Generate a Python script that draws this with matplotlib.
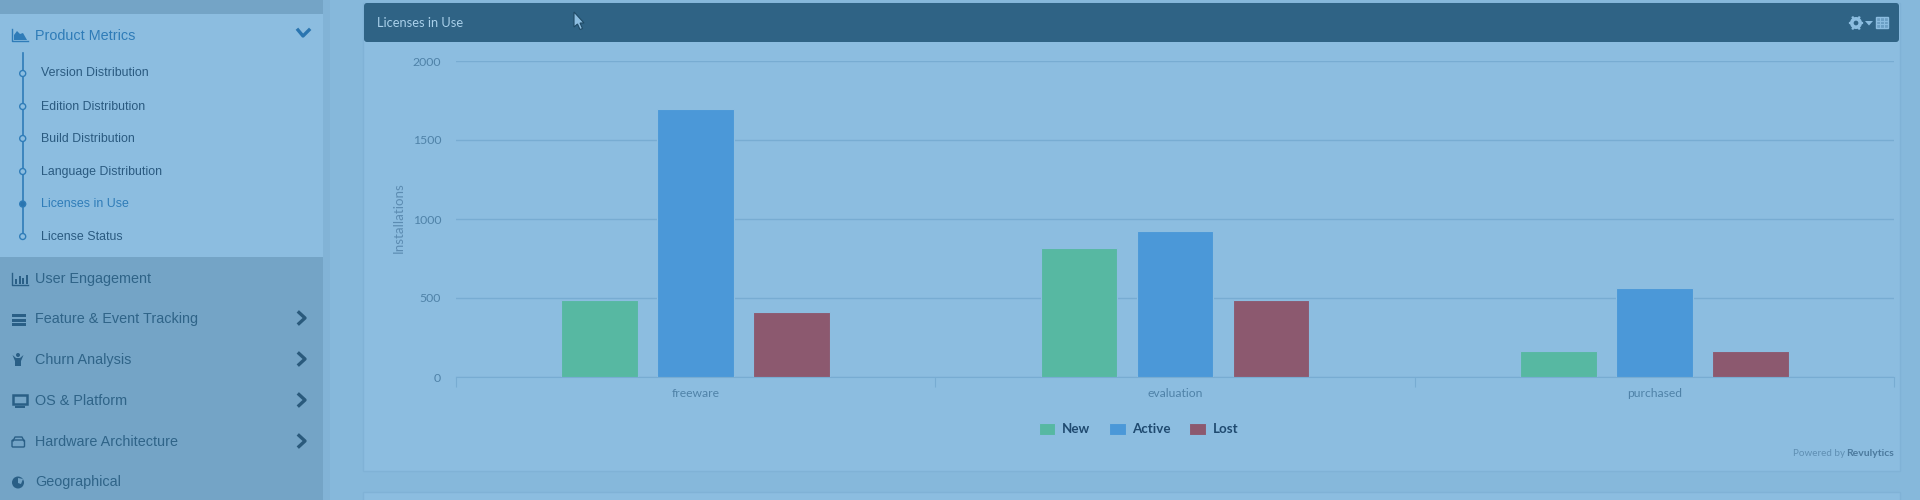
import numpy as np
import matplotlib
matplotlib.use("Agg")
import matplotlib.pyplot as plt
from matplotlib.patches import Rectangle, FancyBboxPatch, Polygon, Circle

categories = ["freeware", "evaluation", "purchased"]
new_vals = [488, 815, 163]
active_vals = [1698, 923, 565]
lost_vals = [410, 488, 163]
series_names = ["New", "Active", "Lost"]
y_ticks = [0, 500, 1000, 1500, 2000]
submenu = ["Version Distribution", "Edition Distribution", "Build Distribution",
           "Language Distribution", "Licenses in Use", "License Status"]
menu = ["User Engagement", "Feature & Event Tracking", "Churn Analysis",
        "OS & Platform", "Hardware Architecture", "Geographical"]

W, H = 1920, 500
BG = "#86b8db"; SIDE = "#74a4c6"; PANEL = "#8cbde0"; HEAD = "#2f6385"
GRID = "#78acd2"; TICK = "#4f82a8"; NAV = "#2f6488"; SUB = "#2a5a80"; ACC = "#2f7cb8"
COLORS = ["#57b8a2", "#4b98d8", "#8c596f"]

fig = plt.figure(figsize=(W / 100, H / 100), dpi=100, facecolor=BG)

# page chrome in pixel coordinates
bg = fig.add_axes([0, 0, 1, 1], zorder=0)
bg.set_xlim(0, W); bg.set_ylim(H, 0); bg.axis("off")
bg.add_patch(Rectangle((0, 0), 323, H, fc=SIDE, ec="none"))
bg.add_patch(Rectangle((323, 0), 7, H, fc="#82b3d6", ec="none"))
bg.add_patch(Rectangle((0, 14), 323, 243, fc=PANEL, ec="none"))
bg.add_patch(Rectangle((363, 3), 1537, 468, fc=PANEL, ec="#80b2d6", lw=1))
bg.add_patch(Rectangle((363, 492), 1537, 10, fc=PANEL, ec="#80b2d6", lw=1))
bg.add_patch(FancyBboxPatch((366, 5), 1531, 35, boxstyle="round,pad=2,rounding_size=3", fc=HEAD, ec="none"))
bg.text(377, 23, "Licenses in Use", color="#a9d0ea", fontsize=9.3, family="Lato", va="center")

# cursor
bg.add_patch(Polygon([(574, 12), (574, 27), (577.5, 24), (580, 29.5), (582.5, 28.5), (580, 23), (584, 23)],
                     fc="#8cbde0", ec="#1f4a66", lw=0.8))

# gear + caret + table icons
bg.add_patch(Circle((1856, 23), 4.2, fc="none", ec="#8cbde0", lw=2.6))
for a in np.arange(0, 360, 60):
    bg.plot([1856 + 4.5 * np.cos(np.radians(a)), 1856 + 6.4 * np.cos(np.radians(a))],
            [23 + 4.5 * np.sin(np.radians(a)), 23 + 6.4 * np.sin(np.radians(a))], color="#8cbde0", lw=1.6)
bg.add_patch(Polygon([(1865, 21), (1873, 21), (1869, 25.5)], fc="#8cbde0", ec="none"))
bg.add_patch(Rectangle((1876, 17), 12, 11, fc="#6b9fc4", ec="#8cbde0", lw=1))
for gx in (1880, 1884):
    bg.plot([gx, gx], [17, 28], color="#8cbde0", lw=0.7)
for gy in (20.6, 24.2):
    bg.plot([1876, 1888], [gy, gy], color="#8cbde0", lw=0.7)

# sidebar
nav_font = "Liberation Sans"
bg.text(35, 36, "Product Metrics", color=ACC, fontsize=10.4, family=nav_font, va="center")
bg.plot([12, 12, 28], [29, 41, 41], color=ACC, lw=1)
bg.add_patch(Polygon([(14, 40), (14, 35), (17, 31), (20, 34), (23, 33), (27, 40)], fc=ACC, ec="none"))
bg.plot([298, 303, 309], [30, 36, 30], color="#2a75b0", lw=2.4)

sub_y = [73.5, 106.5, 138.5, 171.5, 204, 236.5]
bg.plot([22.7, 22.7], [53, 236], color=ACC, lw=1.2, zorder=2)
for i, (label, y) in enumerate(zip(submenu, sub_y)):
    active = label == "Licenses in Use"
    bg.add_patch(Circle((22.7, y), 3, fc="#2a75b0" if active else PANEL, ec=ACC, lw=1, zorder=3))
    bg.text(41, y, label, color=ACC if active else SUB, fontsize=8.9, family=nav_font, va="center")

menu_y = [279, 319, 360, 401, 442, 482]
for label, y in zip(menu, menu_y):
    bg.text(35, y, label, color=NAV, fontsize=10.4, family=nav_font, va="center")
for y in menu_y[1:5]:
    bg.plot([299, 305, 299], [y - 6.5, y - 1, y + 4.5], color="#2a5a7c", lw=2.4)

ic = "#2a5f86"
# bar-chart icon
bg.plot([12, 12, 28], [273, 285, 285], color=ic, lw=1)
for bx, bh in zip([15, 18.5, 22, 25.5], [5, 8, 6, 9]):
    bg.add_patch(Rectangle((bx, 284 - bh), 2, bh, fc=ic, ec="none"))
# tasks icon
for by in (314, 318.5, 323):
    bg.add_patch(Rectangle((12, by), 14, 3.2, fc=ic, ec="none"))
# person icon
bg.add_patch(Circle((18, 355), 2, fc=ic, ec="none"))
bg.add_patch(Polygon([(12.5, 355), (16, 358), (20, 358), (23.5, 355), (21, 361), (21, 366), (15, 366), (15, 361)], fc=ic, ec="none"))
# monitor icon
bg.add_patch(Rectangle((13, 395), 14, 9, fc="none", ec=ic, lw=1.8))
bg.add_patch(Rectangle((15, 406), 10, 1.6, fc=ic, ec="none"))
# hdd icon
bg.add_patch(FancyBboxPatch((13, 441), 10.5, 5, boxstyle="round,pad=1,rounding_size=1", fc="none", ec=ic, lw=1))
bg.plot([13, 15, 22, 24], [441, 437, 437, 441], color=ic, lw=1)
# globe icon
bg.add_patch(Circle((18, 482.5), 6, fc=ic, ec="none"))
bg.add_patch(Polygon([(18, 478), (23, 479), (21, 484), (18, 483)], fc=SIDE, ec="none"))

# chart
L, R, T, B = 456, 1894, 61, 377
ax = fig.add_axes([L / W, 1 - B / H, (R - L) / W, (B - T) / H], zorder=1)
ax.patch.set_alpha(0)
x = np.arange(len(categories))
w, step = 0.16, 0.2
for off, vals, name, col in zip((-step, 0, step), (new_vals, active_vals, lost_vals), series_names, COLORS):
    ax.bar(x + off, vals, width=w, color=col, edgecolor=PANEL, linewidth=0.8, label=name, zorder=3)
ax.set_xlim(-0.5, len(categories) - 0.5)
ax.set_ylim(0, 2000)
ax.set_yticks(y_ticks)
ax.grid(axis="y", color=GRID, lw=1, zorder=0)
ax.tick_params(axis="y", length=0, pad=10.7, labelsize=8.8, labelcolor=TICK)
for t in ax.get_yticklabels():
    t.set_family("Lato")
ax.set_xticks(np.arange(len(categories) + 1) - 0.5)
ax.set_xticklabels([])
ax.tick_params(axis="x", which="major", length=7.2, width=0.8, color=GRID)
ax.set_xticks(x, categories, minor=True)
ax.tick_params(axis="x", which="minor", length=0, pad=7.6, labelsize=8.7, labelcolor=TICK)
for t in ax.get_xticklabels(minor=True):
    t.set_family("Lato")
for s in ("top", "left", "right"):
    ax.spines[s].set_visible(False)
ax.spines["bottom"].set_color(GRID)
ax.set_axisbelow(True)

fig.text(398.5 / W, 1 - 218 / H, "Installations", rotation=90, color="#5c8cb2", fontsize=9.6,
         family="Lato", ha="center", va="center")

leg = ax.legend(loc="center", bbox_to_anchor=((1138.5 - L) / (R - L), (B - 429) / (B - T)), ncol=3,
                frameon=False, handlelength=1.25, handleheight=1.0, handletextpad=0.5,
                columnspacing=1.4, borderpad=0, prop={"family": "Lato", "weight": "bold", "size": 9.6})
for t in leg.get_texts():
    t.set_color("#1f4a70")

fig.text(1894 / W, 1 - 453 / H, "Revulytics", color="#4c7a9e", fontsize=7.5, family="Lato", weight="bold",
         ha="right", va="center")
fig.text(1845 / W, 1 - 453 / H, "Powered by", color="#5f8fb3", fontsize=7.1, family="Lato",
         ha="right", va="center")

fig.savefig("out.png", dpi=100, facecolor=BG)
